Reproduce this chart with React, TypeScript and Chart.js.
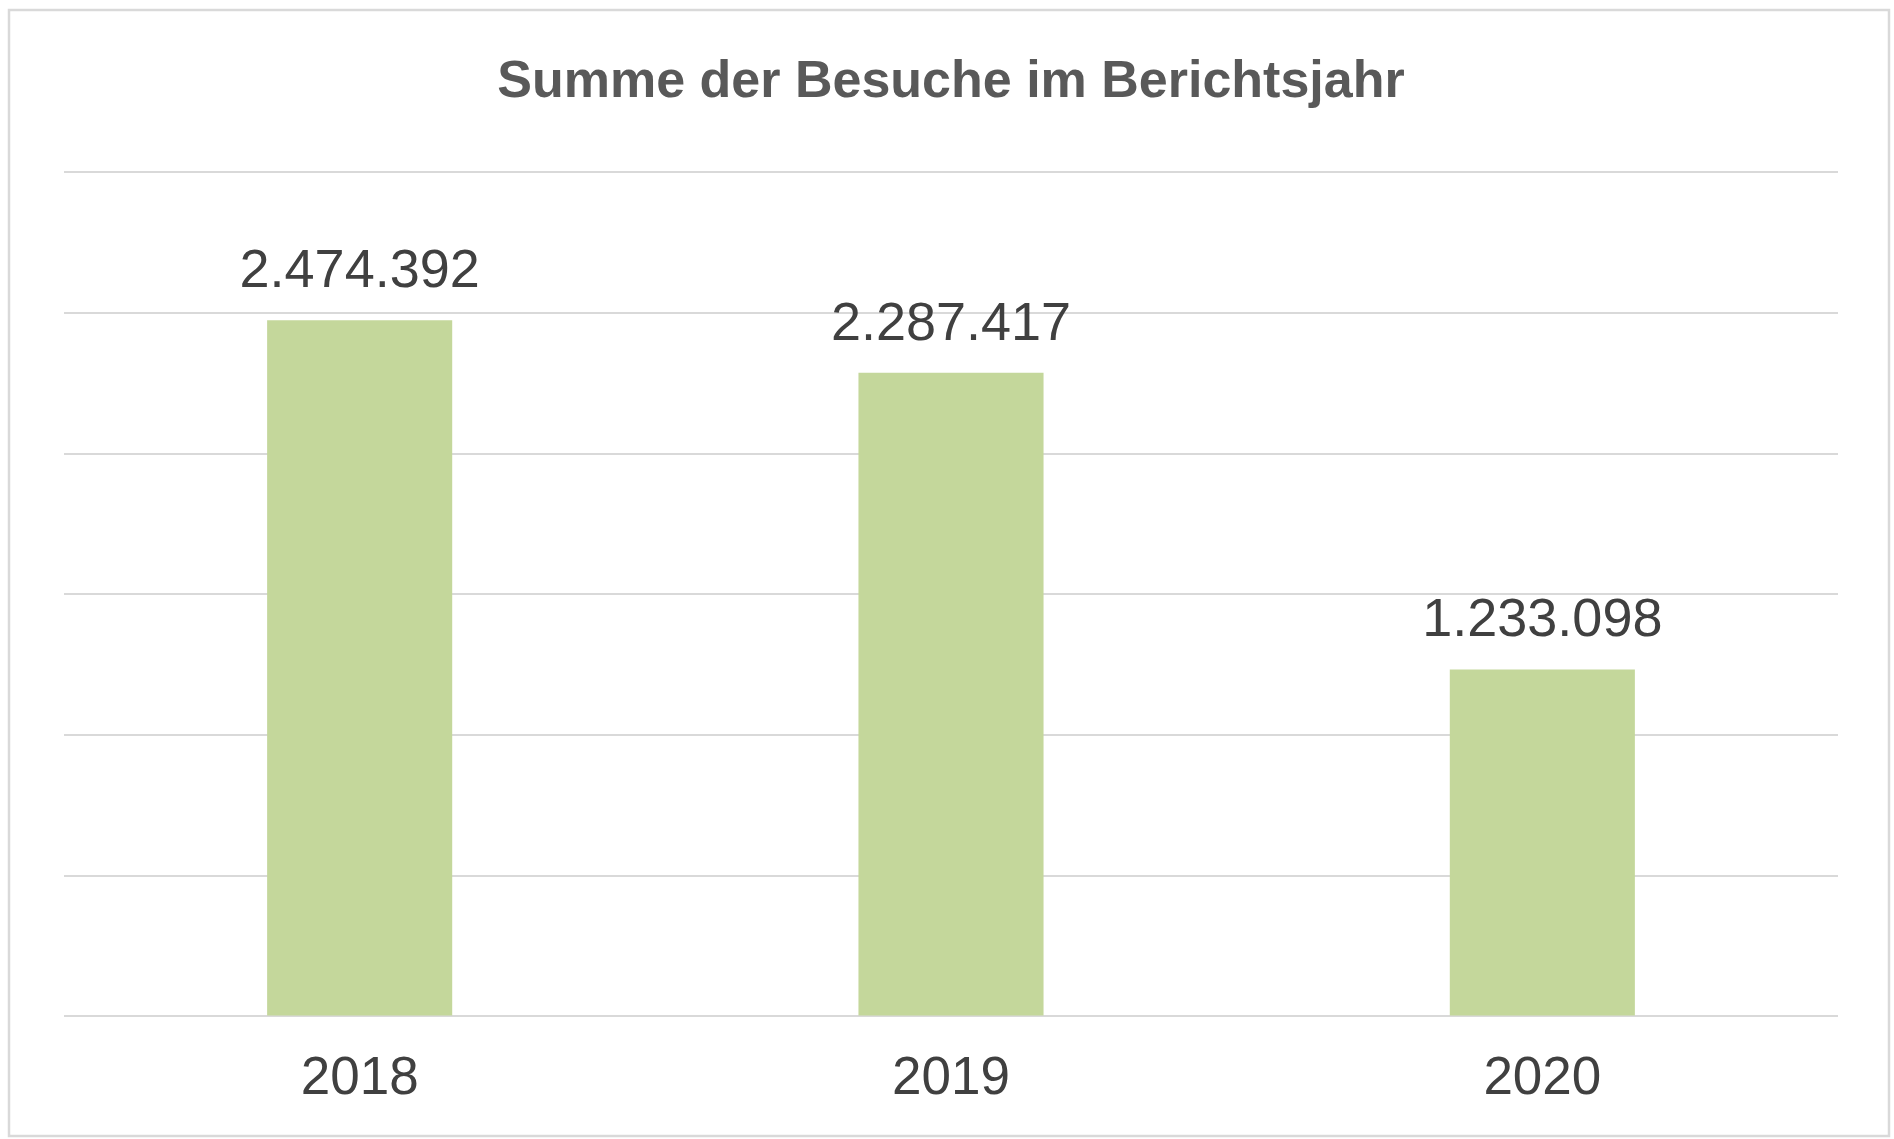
import React, { useEffect, useRef } from "react";
import { Chart, registerables } from "chart.js";

Chart.register(...registerables);

const categories = ["2018", "2019", "2020"];
const visits = [2474392, 2287417, 1233098];
const yTicks = [0, 500000, 1000000, 1500000, 2000000, 2500000, 3000000];
const titleText = "Summe der Besuche im Berichtsjahr";

const fmt = (v: number) => String(Math.round(v)).replace(/\B(?=(\d{3})+(?!\d))/g, ".");

const W = 1894;
const H = 1139;

const framePlugin = {
  id: "frame",
  beforeDraw(chart: any) {
    const ctx = chart.ctx;
    ctx.save();
    ctx.fillStyle = "#ffffff";
    ctx.fillRect(0, 0, chart.width, chart.height);
    ctx.strokeStyle = "#d9d9d9";
    ctx.lineWidth = 2.5;
    ctx.strokeRect(9, 10, 1880, 1126);
    ctx.restore();
  },
};

const labelPlugin = {
  id: "valueLabels",
  afterDatasetsDraw(chart: any) {
    const ctx = chart.ctx;
    const meta = chart.getDatasetMeta(0);
    ctx.save();
    ctx.font = "54px 'Liberation Sans', Arial, sans-serif";
    ctx.fillStyle = "#404040";
    ctx.textAlign = "center";
    ctx.textBaseline = "alphabetic";
    meta.data.forEach((el: any, i: number) => {
      ctx.fillText(fmt(visits[i]), el.x, el.y - 33);
    });
    ctx.restore();
  },
};

export default function App() {
  const ref = useRef<HTMLCanvasElement | null>(null);
  useEffect(() => {
    document.body.style.margin = "0";
    document.body.style.overflow = "hidden";
    const chart = new Chart(ref.current!, {
      type: "bar",
      data: {
        labels: categories,
        datasets: [
          {
            data: visits,
            backgroundColor: "#C4D79B",
            borderWidth: 0,
            categoryPercentage: 1,
            barPercentage: 0.313,
          },
        ],
      },
      options: {
        animation: false,
        responsive: false,
        devicePixelRatio: 1,
        layout: { padding: { left: 64, right: 56, top: 0, bottom: -3 } },
        plugins: {
          legend: { display: false },
          tooltip: { enabled: false },
          title: {
            display: true,
            text: titleText,
            color: "#595959",
            font: { family: "'Liberation Sans', Arial, sans-serif", size: 52, weight: "bold", lineHeight: 1.2 },
            padding: { top: 51, bottom: 59 },
          },
        },
        scales: {
          x: {
            grid: { display: false, drawTicks: false },
            border: { display: false },
            ticks: {
              color: "#404040",
              padding: 31,
              font: { family: "'Liberation Sans', Arial, sans-serif", size: 53 },
            },
          },
          y: {
            min: 0,
            max: 3000000,
            afterBuildTicks: (scale: any) => {
              scale.ticks = yTicks.map((v) => ({ value: v }));
            },
            grid: { color: "#d9d9d9", lineWidth: 2, drawTicks: false },
            border: { display: false },
            ticks: { display: false },
          },
        },
      },
      plugins: [framePlugin, labelPlugin],
    });
    return () => chart.destroy();
  }, []);
  return (
    <div style={{ position: "absolute", left: 0, top: 0, width: W, height: H }}>
      <canvas ref={ref} width={W} height={H} style={{ width: W, height: H, display: "block" }} />
    </div>
  );
}
